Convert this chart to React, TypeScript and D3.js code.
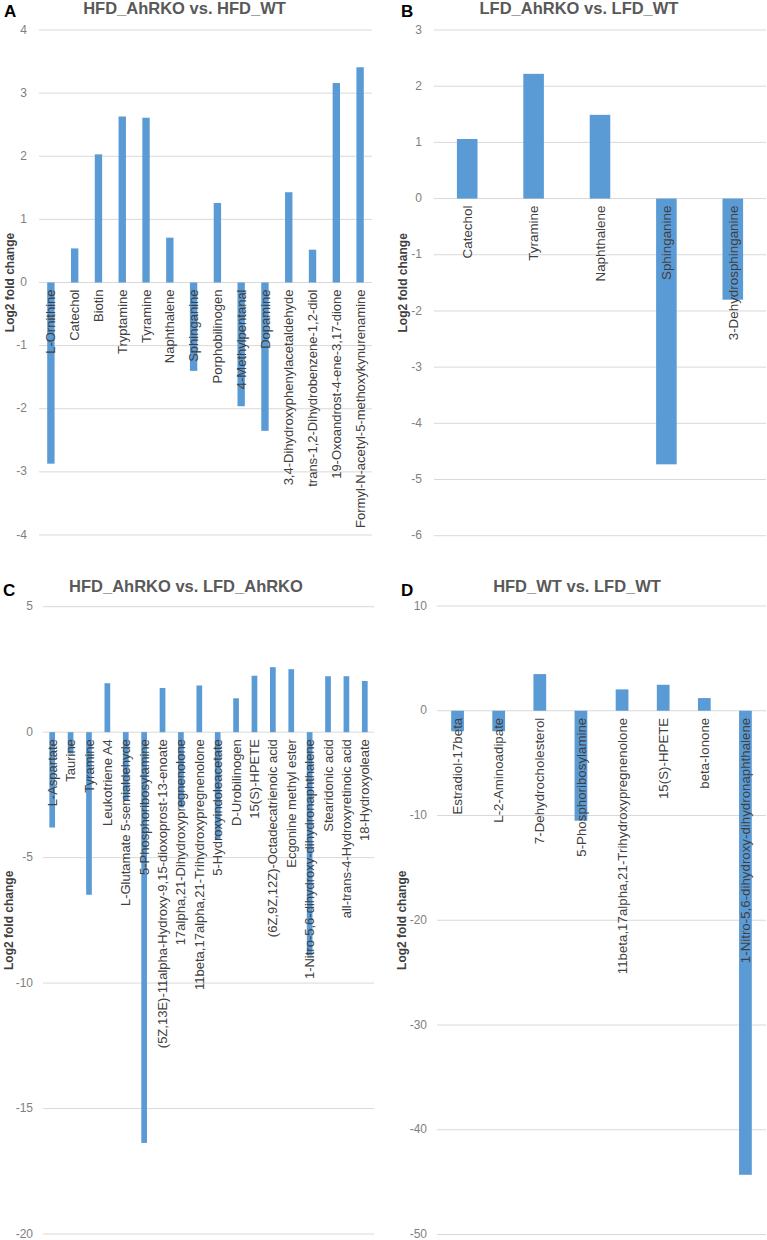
import React from "react";
import * as d3 from "d3";

const aNames = ["L-Ornithine", "Catechol", "Biotin", "Tryptamine", "Tyramine", "Naphthalene", "Sphinganine", "Porphobilinogen", "4-Methylpentanal", "Dopamine", "3,4-Dihydroxyphenylacetaldehyde", "trans-1,2-Dihydrobenzene-1,2-diol", "19-Oxoandrost-4-ene-3,17-dione", "Formyl-N-acetyl-5-methoxykynurenamine"];
const aValues = [-2.87, 0.54, 2.03, 2.63, 2.61, 0.71, -1.4, 1.26, -1.96, -2.35, 1.43, 0.52, 3.16, 3.41];
const aTicks = [4, 3, 2, 1, 0, -1, -2, -3, -4];

const bNames = ["Catechol", "Tyramine", "Naphthalene", "Sphinganine", "3-Dehydrosphinganine"];
const bValues = [1.06, 2.22, 1.49, -4.73, -1.8];
const bTicks = [3, 2, 1, 0, -1, -2, -3, -4, -5, -6];

const cNames = ["L-Aspartate", "Taurine", "Tyramine", "Leukotriene A4", "L-Glutamate 5-semialdehyde", "5-Phosphoribosylamine", "(5Z,13E)-11alpha-Hydroxy-9,15-dioxoprost-13-enoate", "17alpha,21-Dihydroxypregnenolone", "11beta,17alpha,21-Trihydroxypregnenolone", "5-Hydroxyindoleacetate", "D-Urobilinogen", "15(S)-HPETE", "(6Z,9Z,12Z)-Octadecatrienoic acid", "Ecgonine methyl ester", "1-Nitro-5,6-dihydroxy-dihydronaphthalene", "Stearidonic acid", "all-trans-4-Hydroxyretinoic acid", "18-Hydroxyoleate"];
const cValues = [-3.8, -0.85, -6.48, 1.95, -2.7, -16.37, 1.76, -3.0, 1.86, -4.3, 1.35, 2.25, 2.59, 2.51, -8.9, 2.23, 2.23, 2.04];
const cTicks = [5, 0, -5, -10, -15, -20];

const dNames = ["Estradiol-17beta", "L-2-Aminoadipate", "7-Dehydrocholesterol", "5-Phosphoribosylamine", "11beta,17alpha,21-Trihydroxypregnenolone", "15(S)-HPETE", "beta-Ionone", "1-Nitro-5,6-dihydroxy-dihydronaphthalene"];
const dValues = [-1.96, -1.96, 3.5, -10.5, 2.04, 2.48, 1.21, -44.3];
const dTicks = [10, 0, -10, -20, -30, -40, -50];

const titles = ["HFD_AhRKO vs. HFD_WT", "LFD_AhRKO vs. LFD_WT", "HFD_AhRKO vs. LFD_AhRKO", "HFD_WT vs. LFD_WT"];
const letters = ["A", "B", "C", "D"];

const FONT = "'Liberation Sans', Arial, sans-serif";
const BAR = "#5b9bd5";

type PanelProps = {
  names: string[];
  values: number[];
  ticks: number[];
  title: string;
  letter: string;
  x0: number;
  x1: number;
  yTop: number;
  yBottom: number;
  tickX: number;
  labelFont: number;
  titleX: number;
  titleY: number;
  letterX: number;
  letterY: number;
  ylabX: number;
};

function Panel(p: PanelProps) {
  const x = d3.scaleBand<string>().domain(p.names).range([p.x0, p.x1]).padding(0);
  const y = d3
    .scaleLinear()
    .domain([d3.min(p.ticks) as number, d3.max(p.ticks) as number])
    .range([p.yBottom, p.yTop]);
  const bw = x.bandwidth() * 0.31;
  const y0 = y(0);
  return (
    <g>
      {p.ticks.map((t) => (
        <g key={t}>
          <line x1={p.x0} x2={p.x1} y1={y(t)} y2={y(t)} stroke="#d9d9d9" strokeWidth={1} />
          <text x={p.tickX} y={y(t)} dy="0.3em" textAnchor="end" fontSize={12} fill="#7f7f7f" fontFamily={FONT}>
            {t}
          </text>
        </g>
      ))}
      {p.names.map((n, i) => {
        const v = p.values[i];
        const cx = (x(n) as number) + x.bandwidth() / 2;
        return (
          <rect key={n} x={cx - bw / 2} width={bw} y={Math.min(y(v), y0)} height={Math.abs(y(v) - y0)} fill={BAR} />
        );
      })}
      {p.names.map((n) => {
        const cx = (x(n) as number) + x.bandwidth() / 2;
        const ly = y0 + 7;
        return (
          <text
            key={"l" + n}
            transform={`translate(${cx},${ly}) rotate(-90)`}
            textAnchor="end"
            dy="0.35em"
            fontSize={p.labelFont}
            fill="#404040"
            fontFamily={FONT}
          >
            {n}
          </text>
        );
      })}
      <text
        transform={`translate(${p.ylabX},${(p.yTop + p.yBottom) / 2}) rotate(-90)`}
        textAnchor="middle"
        dy="0.35em"
        fontSize={12}
        fontWeight="bold"
        fill="#404040"
        fontFamily={FONT}
      >
        Log2 fold change
      </text>
      <text x={p.titleX} y={p.titleY} textAnchor="middle" fontSize={16.5} fontWeight="bold" fill="#595959" fontFamily={FONT}>
        {p.title}
      </text>
      <text x={p.letterX} y={p.letterY} fontSize={17} fontWeight="bold" fill="#000" fontFamily={FONT}>
        {p.letter}
      </text>
    </g>
  );
}

export default function App() {
  return (
    <svg
      width={767}
      height={1240}
      viewBox="0 0 767 1240"
      style={{ position: "absolute", left: 0, top: 0, background: "#fff" }}
    >
      <rect width={767} height={1240} fill="#fff" />
      <Panel
        names={aNames}
        values={aValues}
        ticks={aTicks}
        title={titles[0]}
        letter={letters[0]}
        x0={39}
        x1={372}
        yTop={30}
        yBottom={535}
        tickX={27}
        labelFont={13}
        titleX={184.5}
        titleY={14}
        letterX={4}
        letterY={17}
        ylabX={9.5}
      />
      <Panel
        names={bNames}
        values={bValues}
        ticks={bTicks}
        title={titles[1]}
        letter={letters[1]}
        x0={434}
        x1={766}
        yTop={30}
        yBottom={535.7}
        tickX={422}
        labelFont={13.4}
        titleX={579}
        titleY={14}
        letterX={401}
        letterY={17}
        ylabX={403}
      />
      <Panel
        names={cNames}
        values={cValues}
        ticks={cTicks}
        title={titles[2]}
        letter={letters[2]}
        x0={43}
        x1={374}
        yTop={606.7}
        yBottom={1234}
        tickX={33}
        labelFont={13}
        titleX={186}
        titleY={591.5}
        letterX={3}
        letterY={596}
        ylabX={8.5}
      />
      <Panel
        names={dNames}
        values={dValues}
        ticks={dTicks}
        title={titles[3]}
        letter={letters[3]}
        x0={437}
        x1={766}
        yTop={606}
        yBottom={1234.5}
        tickX={427}
        labelFont={13.3}
        titleX={577}
        titleY={591.5}
        letterX={401}
        letterY={596}
        ylabX={401.5}
      />
    </svg>
  );
}
